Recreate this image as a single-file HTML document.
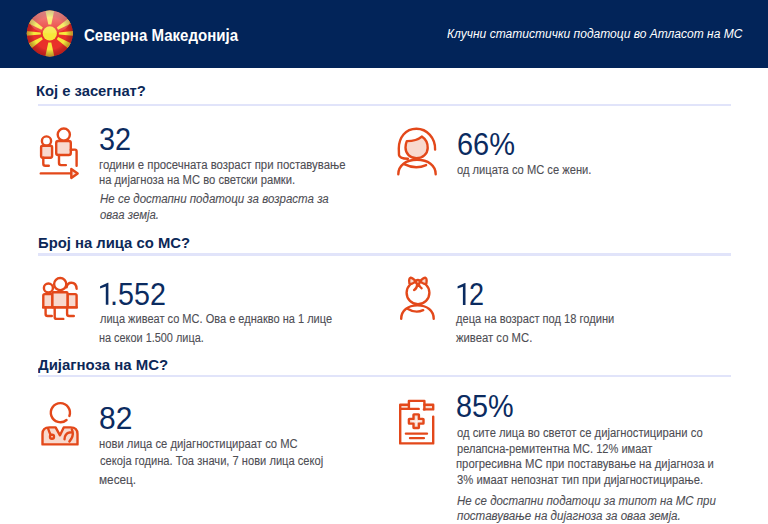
<!DOCTYPE html>
<html><head><meta charset="utf-8">
<style>
html,body{margin:0;padding:0}
body{width:768px;height:524px;overflow:hidden;position:relative;background:#ffffff;font-family:"Liberation Sans",sans-serif}
.abs{position:absolute}
.t{position:absolute;white-space:nowrap;transform-origin:0 0}
.hdr{position:absolute;left:0;top:0;width:768px;height:68px;background:#022459}
.rule{position:absolute;left:38px;width:693px;height:2px;background:#e1e4fa}
</style></head><body>
<div class="hdr"></div>

<svg class="abs" style="left:0;top:0" width="100" height="68" viewBox="0 0 100 68">
 <defs>
  <clipPath id="fc"><circle cx="49.8" cy="33.4" r="23"/></clipPath>
  <radialGradient id="fg" cx="0.5" cy="0.5" r="0.5">
   <stop offset="0.7" stop-color="#000" stop-opacity="0"/>
   <stop offset="1" stop-color="#700" stop-opacity="0.4"/>
  </radialGradient>
  <linearGradient id="fh" x1="0" y1="0" x2="0" y2="1">
   <stop offset="0" stop-color="#fff" stop-opacity="0.5"/>
   <stop offset="1" stop-color="#fff" stop-opacity="0.08"/>
  </linearGradient>
 </defs>
 <g clip-path="url(#fc)">
  <rect x="20" y="4" width="60" height="60" fill="#e9302a"/>
  <g fill="#f7e83c" transform="translate(49.8 33.4)">
   <polygon points="1.50,-9.00 5.10,-26.00 -5.10,-26.00 -1.50,-9.00"/><polygon points="-1.50,9.00 -5.10,26.00 5.10,26.00 1.50,9.00"/><polygon points="-9.00,-1.00 -26.00,-2.60 -26.00,2.60 -9.00,1.00"/><polygon points="9.00,1.00 26.00,2.60 26.00,-2.60 9.00,-1.00"/><polygon points="-6.94,-5.87 -20.35,-16.49 -23.74,-11.06 -8.32,-3.67"/><polygon points="8.32,-3.67 23.74,-11.06 20.35,-16.49 6.94,-5.87"/><polygon points="-8.32,3.67 -23.74,11.06 -20.35,16.49 -6.94,5.87"/><polygon points="6.94,5.87 20.35,16.49 23.74,11.06 8.32,3.67"/>
   <circle cx="0" cy="0" r="7.1"/>
  </g>
  <circle cx="49.8" cy="33.4" r="23" fill="url(#fg)"/>
  <ellipse cx="49.8" cy="21" rx="20" ry="12.5" fill="url(#fh)"/>
 </g>
</svg>

<div class="rule" style="top:103.7px;height:2.3px"></div>
<div class="rule" style="top:253.3px;height:2.3px"></div>
<div class="rule" style="top:374.9px;height:2.3px"></div>

<svg class="abs" style="left:0;top:0" width="768" height="524" viewBox="0 0 768 524" fill="none" stroke="#e3481a" stroke-width="2.4" stroke-linecap="round" stroke-linejoin="round">
 <!-- icon1 -->
 <circle cx="63.8" cy="134.6" r="6.1" fill="#fff"/>
 <rect x="56.2" y="141" width="14.6" height="14" rx="2" fill="#f8d9ce"/>
 <circle cx="46.5" cy="141" r="4.6" fill="#fff"/>
 <rect x="41.1" y="145.8" width="11" height="11.9" rx="1.6" fill="#f8d9ce"/>
 <path d="M43.3,157.7 V163.7 Q43.3,165.7 45.3,165.7 H48.8"/>
 <path d="M59,155 V163.1 Q59,165.1 61,165.1 H65.9"/>
 <path d="M70.8,149.8 C72,149.6 73.5,149.6 75,149.6 C76,149.6 76.6,150.4 76.6,151.5 V165.7"/>
 <path d="M40.8,173.4 H71.3"/>
 <path d="M71.3,168.9 L77.7,173.4 L71.3,177.9 Z" fill="#f8d9ce"/>
 <!-- icon2 woman -->
 <path d="M435.1,149.6 C435.5,138 427,128.8 416.4,128.8 C405.5,128.8 398.8,137.5 398.8,148.6 L399,155 C399.5,158 403,158.7 407.9,158.7"/>
 <path d="M406.8,141.1 C412.5,141.1 418.5,139.5 421.8,136.6 C425.5,139 427.8,143 427.7,148 C427.6,154 422.5,158.2 416.4,158.2 C410,158.2 405.5,153.5 405.5,147.5 C405.5,145 406,143 406.8,141.1 Z" fill="#f8d9ce"/>
 <path d="M398.3,174.2 C398.3,165.5 406,159.8 417,159.8 C428,159.8 435.7,165.5 435.7,174.2"/>
 <path d="M404.2,164.1 Q415.4,169.8 426.1,165.1"/>
 <!-- icon3 group -->
 <path d="M43.3,307.4 V295.6 Q43.3,294.1 44.8,294.1 H52.4 V307.4 Z" fill="#f8d9ce"/>
 <path d="M76.6,307.4 V295.6 Q76.6,294.1 75.1,294.1 H67.5 V307.4 Z" fill="#f8d9ce"/>
 <rect x="52.4" y="292.2" width="15.1" height="15.2" rx="1" fill="#f8d9ce"/>
 <path d="M43.3,307.4 H76.6"/>
 <circle cx="48.4" cy="288" r="4.5" fill="#fff"/>
 <path d="M66.6,287.4 C67,284.5 69,282.8 71.4,282.8 C74.2,282.8 76.4,285 76.6,288.8"/>
 <circle cx="60.2" cy="284.1" r="6.1" fill="#fff"/>
 <path d="M45.6,307.4 V314 Q45.6,316 47.6,316 H51.8"/>
 <path d="M54.7,307.4 V316.9 Q54.7,318.9 56.7,318.9 H63.3"/>
 <path d="M67.1,307.4 V314 Q67.1,316 69.1,316 H73.8"/>
 <!-- icon4 girl -->
 <circle cx="418" cy="292.8" r="11.4"/>
 <path d="M415.8,281.2 C413.5,278.8 411.5,277.6 410.3,277.8 C408.9,278.1 408.8,283.3 410,283.9 C411.3,284.4 413.5,283.3 415.8,281.2 Z" fill="#f8d9ce"/>
 <path d="M420,281.2 C422.3,278.8 424.3,277.6 425.5,277.8 C426.9,278.1 427,283.3 425.8,283.9 C424.5,284.4 422.3,283.3 420,281.2 Z" fill="#f8d9ce"/>
 <circle cx="417.9" cy="281.9" r="1.9" fill="#fff"/>
 <path d="M417.4,284.2 C417,286.8 415.5,289.3 414.1,290 M418.6,284.2 C419.2,286 420.3,287.5 421.6,288.2"/>
 <path d="M401.2,318.8 C401.2,310.5 408,305.4 417.4,305.4 C427,305.4 433.7,310.5 433.7,318.8"/>
 <path d="M407.5,308.7 Q415.3,313.6 423.2,310.2"/>
 <!-- icon5 doctor -->
 <path d="M66.54,420.02 A9.55,9.55 0 1 1 69.37,415.97"/>
 <path d="M42.5,444.4 V434 C42.5,430 45,427.4 49.5,427.4 H55.6 L60,435.3 L63.7,427.4 H70.5 C75,427.4 77.5,430 77.5,434 V444.4 Z" fill="#f8d9ce"/>
 <path d="M48.1,428.5 C48.8,430.8 49.6,432.8 50.5,434.6"/>
 <circle cx="52" cy="436.8" r="2" fill="#fff"/>
 <path d="M71.8,429.3 C73.3,432.5 72.9,436.2 71.3,438.8 L69.4,441.5"/>
 <path d="M64.5,439.2 C64.4,435.8 66.6,432.8 69.5,432.5 L72.2,432.4"/>
 <!-- ones -->
 <polygon stroke="none" fill="#0b2b60" points="108.4,282.8 108.4,304.8 105.8,304.8 105.8,286.6 100.1,288.6 100.1,286.3 107.8,282.8"/>
 <polygon stroke="none" fill="#0b2b60" points="465.5,282.9 465.5,305 462.9,305 462.9,286.7 457.6,288.6 457.6,286.3 464.9,282.9"/>
 <!-- icon6 clipboard -->
 <path d="M400.2,404.8 H408.9 V408.9 H400.2 Z M423.9,404.8 H433.2 V409.4 H423.9 Z" fill="#f8d9ce" stroke="none"/>
 <path d="M418.7,408.9 H400.2 V443.4 H433.2 V416.6"/>
 <path d="M408.9,404.8 H400.2 V408.9 M424.4,404.8 H433.2 V409.4 H423.9"/>
 <path d="M408.9,408.9 V400.9 H424.4 V409.4"/>
 <path d="M413.9,414.4 H418.5 Q418.9,414.4 418.9,414.8 V418.9 H422.9 Q423.5,418.9 423.5,419.3 V423.2 Q423.5,423.6 423.1,423.6 H418.9 V427.6 Q418.9,428 418.5,428 H413.9 Q413.5,428 413.5,427.6 V423.6 H409.3 Q408.9,423.6 408.9,423.2 V419.3 Q408.9,418.9 409.3,418.9 H413.5 V414.8 Q413.5,414.4 413.9,414.4 Z" fill="#f8d9ce"/>
 <path d="M416.2,417.2 V425.2 M412.2,421.2 H420.2" stroke="#fff" stroke-width="0.7"/>
 <path d="M405.9,433.6 H427 M410,438.1 H423.9"/>
</svg>

<div class="t" style="left:83.70px;top:27.70px;font-size:15.8px;line-height:15.8px;font-weight:bold;font-style:normal;color:#ffffff;transform:scaleX(0.9525)">Северна Македонија</div>
<div class="t" style="left:447.30px;top:28.20px;font-size:12px;line-height:12px;font-weight:normal;font-style:italic;color:#ffffff;transform:scaleX(1.0024)">Клучни статистички податоци во Атласот на МС</div>
<div class="t" style="left:35.95px;top:82.80px;font-size:15.5px;line-height:15.5px;font-weight:bold;font-style:normal;color:#0c2858;transform:scaleX(0.9526)">Кој е засегнат?</div>
<div class="t" style="left:37.84px;top:234.80px;font-size:15.5px;line-height:15.5px;font-weight:bold;font-style:normal;color:#0c2858;transform:scaleX(0.9561)">Број на лица со МС?</div>
<div class="t" style="left:38.40px;top:357.30px;font-size:15.5px;line-height:15.5px;font-weight:bold;font-style:normal;color:#0c2858;transform:scaleX(0.9649)">Дијагноза на МС?</div>
<div class="t" style="left:98.80px;top:123.00px;font-size:32px;line-height:32px;font-weight:normal;font-style:normal;color:#0b2b60;transform:scaleX(0.9000)">32</div>
<div class="t" style="left:98.75px;top:158.80px;font-size:12px;line-height:12px;font-weight:normal;font-style:normal;color:#4e4e54;transform:scaleX(0.9486);-webkit-text-stroke:0.1px #4e4e54">години е просечната возраст при поставување</div>
<div class="t" style="left:98.76px;top:174.10px;font-size:12px;line-height:12px;font-weight:normal;font-style:normal;color:#4e4e54;transform:scaleX(0.9356);-webkit-text-stroke:0.1px #4e4e54">на дијагноза на МС во светски рамки.</div>
<div class="t" style="left:99.70px;top:193.10px;font-size:12px;line-height:12px;font-weight:normal;font-style:italic;color:#4e4e54;transform:scaleX(0.9592);-webkit-text-stroke:0.1px #4e4e54">Не се достапни податоци за возраста за</div>
<div class="t" style="left:99.70px;top:209.00px;font-size:12px;line-height:12px;font-weight:normal;font-style:italic;color:#4e4e54;transform:scaleX(0.9475);-webkit-text-stroke:0.1px #4e4e54">оваа земја.</div>
<div class="t" style="left:457.30px;top:128.10px;font-size:32px;line-height:32px;font-weight:normal;font-style:normal;color:#0b2b60;transform:scaleX(0.9048)">66%</div>
<div class="t" style="left:456.80px;top:164.10px;font-size:12px;line-height:12px;font-weight:normal;font-style:normal;color:#4e4e54;transform:scaleX(0.9292);-webkit-text-stroke:0.1px #4e4e54">од лицата со МС се жени.</div>
<div class="t" style="left:110.21px;top:277.80px;font-size:32px;line-height:32px;font-weight:normal;font-style:normal;color:#0b2b60;transform:scaleX(0.8966)">.552</div>
<div class="t" style="left:99.90px;top:313.40px;font-size:12px;line-height:12px;font-weight:normal;font-style:normal;color:#4e4e54;transform:scaleX(0.9190);-webkit-text-stroke:0.1px #4e4e54">лица живеат со МС. Ова е еднакво на 1 лице</div>
<div class="t" style="left:98.99px;top:332.20px;font-size:12px;line-height:12px;font-weight:normal;font-style:normal;color:#4e4e54;transform:scaleX(0.9079);-webkit-text-stroke:0.1px #4e4e54">на секои 1.500 лица.</div>
<div class="t" style="left:469.46px;top:278.00px;font-size:32px;line-height:32px;font-weight:normal;font-style:normal;color:#0b2b60;transform:scaleX(0.8438)">2</div>
<div class="t" style="left:456.40px;top:313.40px;font-size:12px;line-height:12px;font-weight:normal;font-style:normal;color:#4e4e54;transform:scaleX(0.9246);-webkit-text-stroke:0.1px #4e4e54">деца на возраст под 18 години</div>
<div class="t" style="left:456.40px;top:332.20px;font-size:12px;line-height:12px;font-weight:normal;font-style:normal;color:#4e4e54;transform:scaleX(0.9413);-webkit-text-stroke:0.1px #4e4e54">живеат со МС.</div>
<div class="t" style="left:98.56px;top:401.50px;font-size:32px;line-height:32px;font-weight:normal;font-style:normal;color:#0b2b60;transform:scaleX(0.9364)">82</div>
<div class="t" style="left:98.76px;top:437.60px;font-size:12px;line-height:12px;font-weight:normal;font-style:normal;color:#4e4e54;transform:scaleX(0.9365);-webkit-text-stroke:0.1px #4e4e54">нови лица се дијагностицираат со МС</div>
<div class="t" style="left:99.70px;top:455.30px;font-size:12px;line-height:12px;font-weight:normal;font-style:normal;color:#4e4e54;transform:scaleX(0.9279);-webkit-text-stroke:0.1px #4e4e54">секоја година. Тоа значи, 7 нови лица секој</div>
<div class="t" style="left:98.72px;top:473.80px;font-size:12px;line-height:12px;font-weight:normal;font-style:normal;color:#4e4e54;transform:scaleX(0.9806);-webkit-text-stroke:0.1px #4e4e54">месец.</div>
<div class="t" style="left:456.30px;top:390.40px;font-size:32px;line-height:32px;font-weight:normal;font-style:normal;color:#0b2b60;transform:scaleX(0.9000)">85%</div>
<div class="t" style="left:457.00px;top:426.80px;font-size:12px;line-height:12px;font-weight:normal;font-style:normal;color:#4e4e54;transform:scaleX(0.9374);-webkit-text-stroke:0.1px #4e4e54">од сите лица во светот се дијагностицирани со</div>
<div class="t" style="left:457.40px;top:442.50px;font-size:12px;line-height:12px;font-weight:normal;font-style:normal;color:#4e4e54;transform:scaleX(0.9226);-webkit-text-stroke:0.1px #4e4e54">релапсна-ремитентна МС. 12% имаат</div>
<div class="t" style="left:456.06px;top:457.90px;font-size:12px;line-height:12px;font-weight:normal;font-style:normal;color:#4e4e54;transform:scaleX(0.9414);-webkit-text-stroke:0.1px #4e4e54">прогресивна МС при поставување на дијагноза и</div>
<div class="t" style="left:457.00px;top:473.80px;font-size:12px;line-height:12px;font-weight:normal;font-style:normal;color:#4e4e54;transform:scaleX(0.9387);-webkit-text-stroke:0.1px #4e4e54">3% имаат непознат тип при дијагностицирање.</div>
<div class="t" style="left:457.00px;top:494.50px;font-size:12px;line-height:12px;font-weight:normal;font-style:italic;color:#4e4e54;transform:scaleX(0.9557);-webkit-text-stroke:0.1px #4e4e54">Не се достапни податоци за типот на МС при</div>
<div class="t" style="left:457.00px;top:510.40px;font-size:12px;line-height:12px;font-weight:normal;font-style:italic;color:#4e4e54;transform:scaleX(0.9654);-webkit-text-stroke:0.1px #4e4e54">поставување на дијагноза за оваа земја.</div>
</body></html>
